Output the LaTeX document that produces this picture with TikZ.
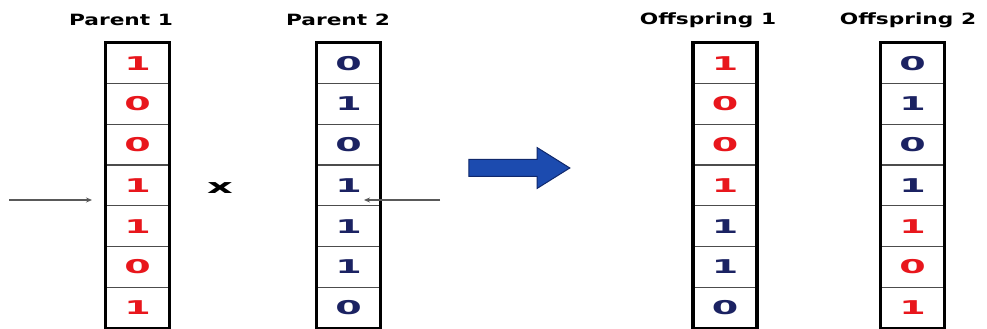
\documentclass[tikz,border=0pt]{standalone}
\usepackage{fontspec}
\usetikzlibrary{arrows.meta,shapes.arrows}
\newfontfamily\titlefont[FakeStretch=1.4]{DejaVu Sans}
\newfontfamily\bitfont[FakeStretch=2.0]{DejaVu Sans}
\definecolor{GeneRed}{HTML}{E8161C}
\definecolor{GeneNavy}{HTML}{1B2262}
\definecolor{ArrowBlue}{HTML}{1C4BAF}
\definecolor{ArrowEdge}{HTML}{10286C}

\tikzset{
  gene/.style={draw=black!70, line width=1.2pt, minimum width=63pt, minimum height=40.7pt,
    inner sep=0pt, font=\bitfont\bfseries\fontsize{19}{19}\selectfont},
  chromo/.style={line width=3.5pt},
  headline/.style={font=\titlefont\bfseries\fontsize{15.5}{15.5}\selectfont},
  cutline/.style={draw=black!65, line width=1.1pt, -{Stealth[length=6pt,width=5pt]}}
}

\begin{document}
\begin{tikzpicture}[x=1pt,y=1pt]
		\useasboundingbox[fill=white] (0,0) rectangle (987,329);
		% parents
		\foreach \b [count=\i] in {1,0,0,1,1,0,1}
			\node[gene, text=GeneRed] (p1-\i) at (137.5,{286-40.7*(\i-0.5)}) {\b};
		\foreach \b [count=\i] in {0,1,0,1,1,1,0}
			\node[gene, text=GeneNavy] (p2-\i) at (348.5,{286-40.7*(\i-0.5)}) {\b};
		% offspring
		\foreach \b/\c [count=\i] in {1/GeneRed,0/GeneRed,0/GeneRed,1/GeneRed,1/GeneNavy,1/GeneNavy,0/GeneNavy}
			\node[gene, text=\c] (o1-\i) at (725,{286-40.7*(\i-0.5)}) {\b};
		\foreach \b/\c [count=\i] in {0/GeneNavy,1/GeneNavy,0/GeneNavy,1/GeneNavy,1/GeneRed,0/GeneRed,1/GeneRed}
			\node[gene, text=\c] (o2-\i) at (912.5,{286-40.7*(\i-0.5)}) {\b};
		\foreach \n in {p1,p2,o1,o2}
			\draw[chromo] (\n-1.north west) rectangle (\n-7.south east);
		% headings
		\node[headline] (h1) at (121,309) {Parent 1};
		\node[headline] (h2) at (338,309) {Parent 2};
		\node[headline] (h3) at (708,309) {Offspring 1};
		\node[headline] (h4) at (908,309) {Offspring 2};
		% crossover point
		\coordinate (cutA) at (9,129);
		\coordinate (cutAend) at (92,129);
		\coordinate (cutB) at (440,129);
		\coordinate (cutBend) at (364,129);
		\draw[cutline] (cutA) -- (cutAend);
		\draw[cutline] (cutB) -- (cutBend);
		\node[font=\bitfont\bfseries\fontsize{20}{20}\selectfont] (cross) at (220,141) {x};
		\node[single arrow, fill=ArrowBlue, draw=ArrowEdge, line width=1pt, minimum width=40pt,
			minimum height=101pt, single arrow head extend=12pt, single arrow tip angle=64,
			inner xsep=0pt, inner ysep=8pt] (step) at (512.5,161) {};
	\end{tikzpicture}
\end{document}
